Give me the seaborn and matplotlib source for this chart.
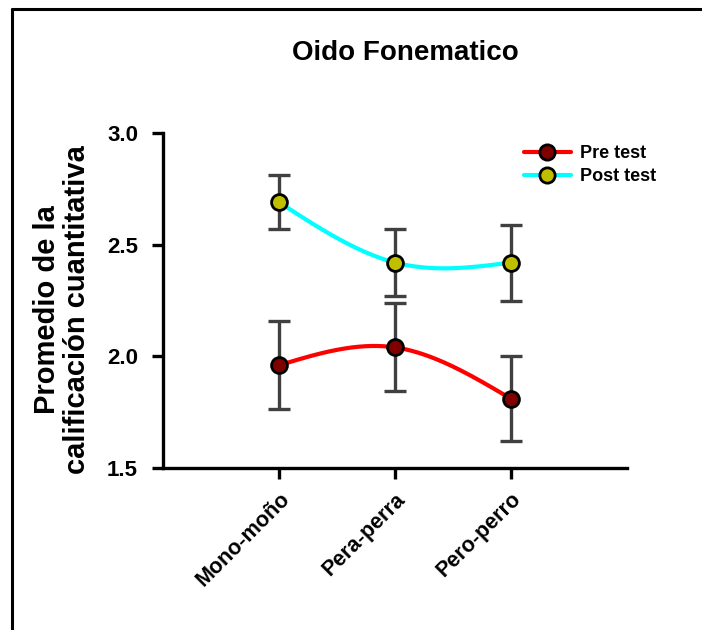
import numpy as np
import pandas as pd
import matplotlib
matplotlib.use('Agg')
import matplotlib.pyplot as plt
import matplotlib.transforms as mtransforms
import seaborn as sns
from matplotlib.lines import Line2D

# Values
categories = ['Mono-moño', 'Pera-perra', 'Pero-perro']
pre_mean = [1.96, 2.04, 1.81]
pre_err = [0.197, 0.197, 0.19]
post_mean = [2.69, 2.42, 2.42]
post_err = [0.12, 0.15, 0.17]


def natural_spline(x, y, n=200):
    # natural cubic spline, like the smoothing Prism uses for its lines
    x = np.asarray(x, float)
    y = np.asarray(y, float)
    k = len(x)
    h = np.diff(x)
    A = np.zeros((k, k))
    b = np.zeros(k)
    A[0, 0] = 1
    A[-1, -1] = 1
    for i in range(1, k - 1):
        A[i, i - 1] = h[i - 1]
        A[i, i] = 2 * (h[i - 1] + h[i])
        A[i, i + 1] = h[i]
        b[i] = 6 * ((y[i + 1] - y[i]) / h[i] - (y[i] - y[i - 1]) / h[i - 1])
    M = np.linalg.solve(A, b)
    xs = np.linspace(x[0], x[-1], n)
    idx = np.clip(np.searchsorted(x, xs) - 1, 0, k - 2)
    t = (xs - x[idx]) / h[idx]
    hi = h[idx]
    ys = ((1 - t) * y[idx] + t * y[idx + 1]
          + hi ** 2 / 6 * (M[idx] * ((1 - t) ** 3 - (1 - t)) + M[idx + 1] * (t ** 3 - t)))
    return xs, ys


sns.set_style('ticks')
plt.rcParams['font.family'] = ['Liberation Sans', 'DejaVu Sans']
plt.rcParams['font.weight'] = 'bold'
plt.rcParams['text.color'] = 'black'
plt.rcParams['xtick.color'] = 'black'
plt.rcParams['ytick.color'] = 'black'
plt.rcParams['axes.edgecolor'] = 'black'

fig = plt.figure(figsize=(7.02, 6.3), dpi=100)
ax = fig.add_axes([163 / 702, 1 - 468 / 630, 464 / 702, 335 / 630])

pos = np.arange(1, len(categories) + 1)

series = [
    ('Pre test', pre_mean, pre_err, '#ff0000', '#800000'),
    ('Post test', post_mean, post_err, '#00ffff', '#bfbf00'),
]

handles = []
for name, mean, err, line_col, face_col in series:
    xs, ys = natural_spline(pos, mean)
    curve = pd.DataFrame({'x': xs, 'y': ys})
    sns.lineplot(data=curve, x='x', y='y', ax=ax, color=line_col, lw=3, zorder=2)
    ax.errorbar(pos, mean, yerr=err, fmt='none', ecolor='#404040',
                elinewidth=2.4, capsize=8, capthick=2.4, zorder=3)
    pts = pd.DataFrame({'x': pos, 'y': mean})
    sns.scatterplot(data=pts, x='x', y='y', ax=ax, color=face_col, s=130,
                    edgecolor='black', linewidth=2, zorder=4)
    handles.append(Line2D([0], [0], color=line_col, lw=3, marker='o',
                          markersize=11, markerfacecolor=face_col,
                          markeredgecolor='black', markeredgewidth=2, label=name))

ax.set_xlim(0, 4)
ax.set_ylim(1.5, 3.0)
ax.set_yticks([1.5, 2.0, 2.5, 3.0])
ax.set_yticklabels(['1.5', '2.0', '2.5', '3.0'], fontsize=16, fontweight='bold')
ax.set_xticks(pos)
ax.set_xticklabels(categories, rotation=45, ha='right', va='top',
                   rotation_mode='anchor', fontsize=15.5, fontweight='bold')
shift = mtransforms.ScaledTranslation(-6 / 100, 3 / 100, fig.dpi_scale_trans)
for lab in ax.get_xticklabels():
    lab.set_transform(lab.get_transform() + shift)
ax.set_xlabel('')
ax.set_ylabel('')
sns.despine(ax=ax)
for s in ['left', 'bottom']:
    ax.spines[s].set_linewidth(2.4)
ax.tick_params(axis='both', width=2.4, length=8, colors='black')
ax.tick_params(axis='y', pad=10)
ax.tick_params(axis='x', pad=7)

fig.text(405 / 702, 1 - 53 / 630, 'Oido Fonematico', ha='center', va='center',
         fontsize=20, fontweight='bold')
fig.text(62 / 702, 1 - 310 / 630, 'Promedio de la\ncalificación cuantitativa',
         rotation=90, ha='center', va='center', fontsize=21, fontweight='bold',
         linespacing=1.05)

ax.legend(handles=handles, loc='upper left', frameon=False,
          bbox_to_anchor=(524 / 702, 1 - 145 / 630), bbox_transform=fig.transFigure,
          borderaxespad=0, borderpad=0, handlelength=2.6, handletextpad=0.5,
          labelspacing=0.35, prop={'size': 13, 'weight': 'bold'})

# outer frame, cut off on the right and bottom like the source image
fig.add_artist(Line2D([12 / 702, 12 / 702], [0, 1 - 9 / 630], color='black',
                      lw=2.2, transform=fig.transFigure))
fig.add_artist(Line2D([12 / 702, 1], [1 - 9 / 630, 1 - 9 / 630], color='black',
                      lw=2.2, transform=fig.transFigure))

fig.savefig('out.png', dpi=100)
